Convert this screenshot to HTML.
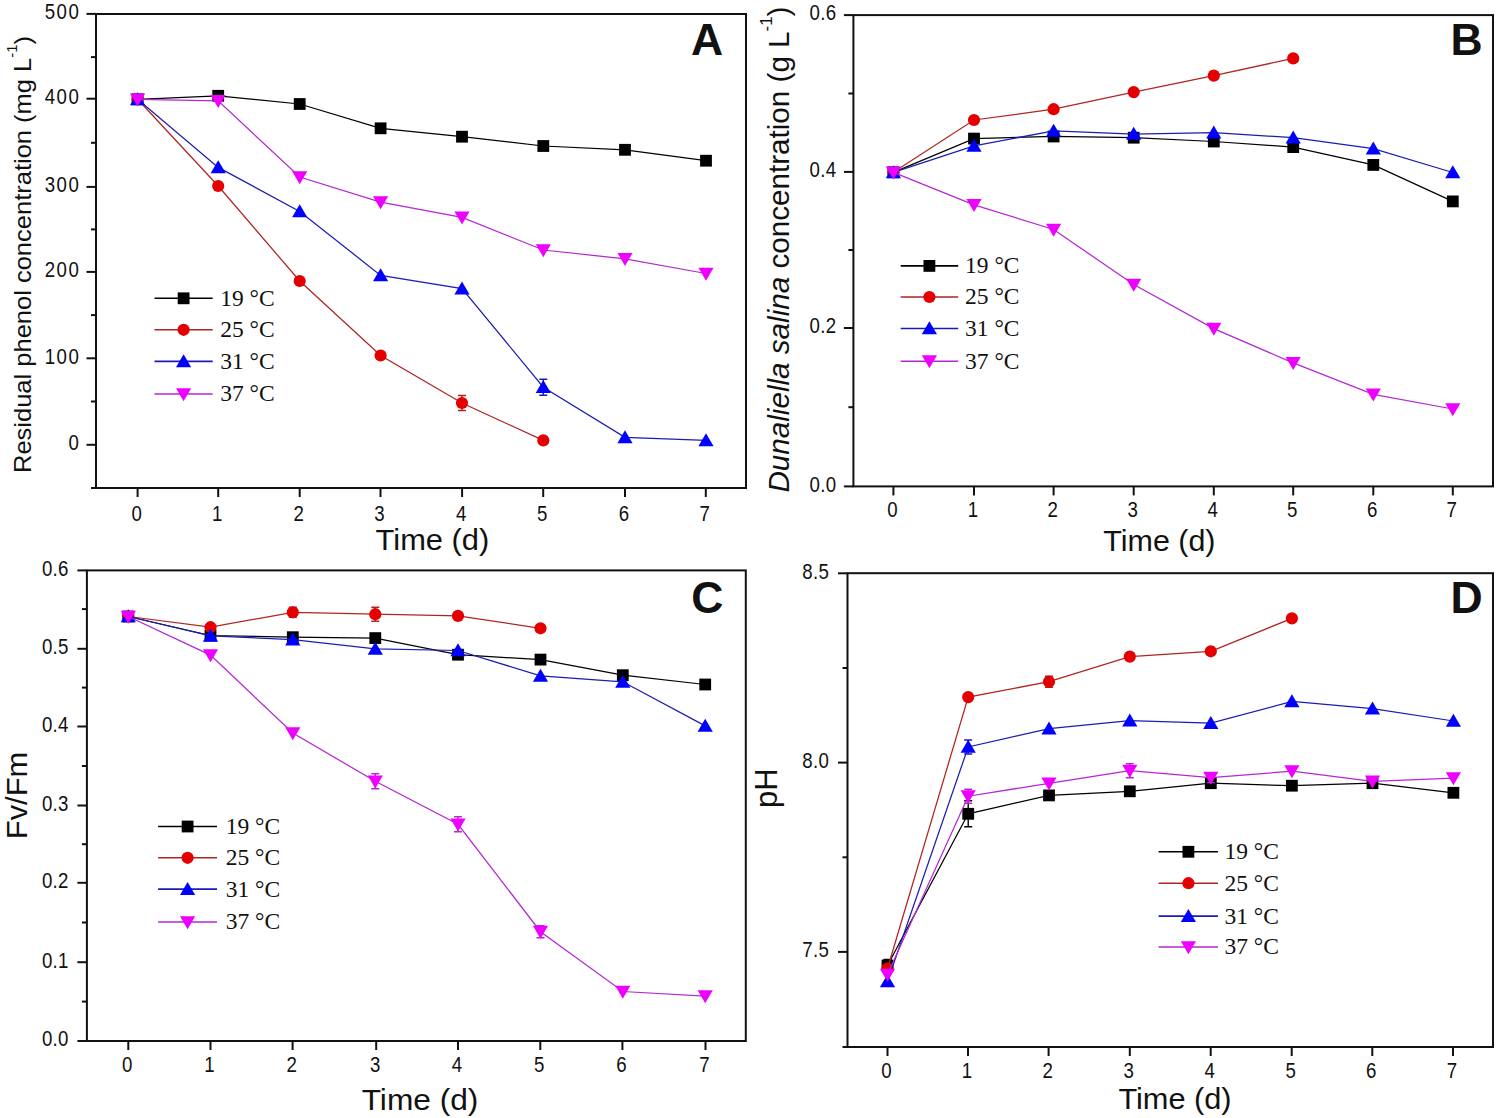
<!DOCTYPE html>
<html><head><meta charset="utf-8"><style>
html,body{margin:0;padding:0;background:#fff;width:1499px;height:1118px;overflow:hidden}
svg{display:block}
text{font-family:"Liberation Sans", sans-serif;fill:#111}
.serif{font-family:"Liberation Serif", serif}
</style></head><body>
<svg width="1499" height="1118" viewBox="0 0 1499 1118">
<rect width="1499" height="1118" fill="#fff"/>
<rect x="96" y="14" width="650" height="474" fill="none" stroke="#111" stroke-width="2.0"/>
<line x1="86.5" y1="13.9" x2="96" y2="13.9" stroke="#111" stroke-width="2"/>
<text transform="translate(80.30,19.20) scale(0.86,1)" font-size="21.7" text-anchor="end" letter-spacing="1.75">500</text>
<line x1="86.5" y1="98.7" x2="96" y2="98.7" stroke="#111" stroke-width="2"/>
<text transform="translate(80.30,104.00) scale(0.86,1)" font-size="21.7" text-anchor="end" letter-spacing="1.75">400</text>
<line x1="86.5" y1="186.9" x2="96" y2="186.9" stroke="#111" stroke-width="2"/>
<text transform="translate(80.30,192.20) scale(0.86,1)" font-size="21.7" text-anchor="end" letter-spacing="1.75">300</text>
<line x1="86.5" y1="271.9" x2="96" y2="271.9" stroke="#111" stroke-width="2"/>
<text transform="translate(80.30,277.20) scale(0.86,1)" font-size="21.7" text-anchor="end" letter-spacing="1.75">200</text>
<line x1="86.5" y1="358.3" x2="96" y2="358.3" stroke="#111" stroke-width="2"/>
<text transform="translate(80.30,363.60) scale(0.86,1)" font-size="21.7" text-anchor="end" letter-spacing="1.75">100</text>
<line x1="86.5" y1="444.8" x2="96" y2="444.8" stroke="#111" stroke-width="2"/>
<text transform="translate(80.30,450.10) scale(0.86,1)" font-size="21.7" text-anchor="end" letter-spacing="1.75">0</text>
<line x1="91" y1="57.1" x2="96" y2="57.1" stroke="#111" stroke-width="2"/>
<line x1="91" y1="142.8" x2="96" y2="142.8" stroke="#111" stroke-width="2"/>
<line x1="91" y1="229.4" x2="96" y2="229.4" stroke="#111" stroke-width="2"/>
<line x1="91" y1="315.1" x2="96" y2="315.1" stroke="#111" stroke-width="2"/>
<line x1="91" y1="401.5" x2="96" y2="401.5" stroke="#111" stroke-width="2"/>
<line x1="91" y1="488" x2="96" y2="488" stroke="#111" stroke-width="2"/>
<line x1="137.6" y1="488" x2="137.6" y2="497" stroke="#111" stroke-width="2"/>
<text transform="translate(136.60,520.70) scale(0.86,1)" font-size="21.7" text-anchor="middle">0</text>
<line x1="218.2" y1="488" x2="218.2" y2="497" stroke="#111" stroke-width="2"/>
<text transform="translate(217.20,520.70) scale(0.86,1)" font-size="21.7" text-anchor="middle">1</text>
<line x1="299.7" y1="488" x2="299.7" y2="497" stroke="#111" stroke-width="2"/>
<text transform="translate(298.70,520.70) scale(0.86,1)" font-size="21.7" text-anchor="middle">2</text>
<line x1="380.5" y1="488" x2="380.5" y2="497" stroke="#111" stroke-width="2"/>
<text transform="translate(379.50,520.70) scale(0.86,1)" font-size="21.7" text-anchor="middle">3</text>
<line x1="462.1" y1="488" x2="462.1" y2="497" stroke="#111" stroke-width="2"/>
<text transform="translate(461.10,520.70) scale(0.86,1)" font-size="21.7" text-anchor="middle">4</text>
<line x1="543.2" y1="488" x2="543.2" y2="497" stroke="#111" stroke-width="2"/>
<text transform="translate(542.20,520.70) scale(0.86,1)" font-size="21.7" text-anchor="middle">5</text>
<line x1="625" y1="488" x2="625" y2="497" stroke="#111" stroke-width="2"/>
<text transform="translate(624.00,520.70) scale(0.86,1)" font-size="21.7" text-anchor="middle">6</text>
<line x1="705.8" y1="488" x2="705.8" y2="497" stroke="#111" stroke-width="2"/>
<text transform="translate(704.80,520.70) scale(0.86,1)" font-size="21.7" text-anchor="middle">7</text>
<text x="375.6" y="549.8" font-size="29" textLength="113.7" lengthAdjust="spacingAndGlyphs">Time (d)</text>
<text x="691.0" y="55.0" font-size="44.5" font-weight="bold">A</text>
<text transform="translate(30.7,473) rotate(-90)" font-size="24" textLength="437" lengthAdjust="spacingAndGlyphs">Residual phenol concentration (mg L<tspan font-size="14" dy="-14">-1</tspan><tspan dy="14">)</tspan></text>
<polyline points="137.60,99.30 218.20,95.80 299.70,104.00 380.60,128.30 462.00,136.70 543.30,146.00 625.00,149.80 706.00,160.70" fill="none" stroke="#000000" stroke-width="1.25"/>
<rect x="131.70" y="93.40" width="11.80" height="11.80" fill="#000000"/>
<rect x="212.30" y="89.90" width="11.80" height="11.80" fill="#000000"/>
<rect x="293.80" y="98.10" width="11.80" height="11.80" fill="#000000"/>
<rect x="374.70" y="122.40" width="11.80" height="11.80" fill="#000000"/>
<rect x="456.10" y="130.80" width="11.80" height="11.80" fill="#000000"/>
<rect x="537.40" y="140.10" width="11.80" height="11.80" fill="#000000"/>
<rect x="619.10" y="143.90" width="11.80" height="11.80" fill="#000000"/>
<rect x="700.10" y="154.80" width="11.80" height="11.80" fill="#000000"/>
<polyline points="137.60,99.30 218.20,186.00 299.70,281.00 380.60,355.50 462.00,403.00 543.30,440.40" fill="none" stroke="#b02424" stroke-width="1.25"/>
<path d="M462.00 395.50V410.50M458.00 395.50h8M458.00 410.50h8" stroke="#b02424" stroke-width="1.4" fill="none"/>
<circle cx="137.60" cy="99.30" r="6.10" fill="#e40000"/>
<circle cx="218.20" cy="186.00" r="6.10" fill="#e40000"/>
<circle cx="299.70" cy="281.00" r="6.10" fill="#e40000"/>
<circle cx="380.60" cy="355.50" r="6.10" fill="#e40000"/>
<circle cx="462.00" cy="403.00" r="6.10" fill="#e40000"/>
<circle cx="543.30" cy="440.40" r="6.10" fill="#e40000"/>
<polyline points="137.60,99.30 218.20,167.40 299.70,211.40 380.60,275.40 462.00,288.60 543.30,387.20 625.00,437.30 706.00,440.40" fill="none" stroke="#1c1cb4" stroke-width="1.25"/>
<path d="M543.30 379.20V395.20M539.30 379.20h8M539.30 395.20h8" stroke="#1c1cb4" stroke-width="1.4" fill="none"/>
<polygon points="137.60,92.15 145.20,105.15 130.00,105.15" fill="#0000ff"/>
<polygon points="218.20,160.25 225.80,173.25 210.60,173.25" fill="#0000ff"/>
<polygon points="299.70,204.25 307.30,217.25 292.10,217.25" fill="#0000ff"/>
<polygon points="380.60,268.25 388.20,281.25 373.00,281.25" fill="#0000ff"/>
<polygon points="462.00,281.45 469.60,294.45 454.40,294.45" fill="#0000ff"/>
<polygon points="543.30,380.05 550.90,393.05 535.70,393.05" fill="#0000ff"/>
<polygon points="625.00,430.15 632.60,443.15 617.40,443.15" fill="#0000ff"/>
<polygon points="706.00,433.25 713.60,446.25 698.40,446.25" fill="#0000ff"/>
<polyline points="137.60,99.30 218.20,100.80 299.70,177.00 380.60,202.20 462.00,217.40 543.30,250.00 625.00,258.80 706.00,273.50" fill="none" stroke="#b428d2" stroke-width="1.25"/>
<polygon points="137.60,106.45 145.20,93.45 130.00,93.45" fill="#ee00ff"/>
<polygon points="218.20,107.95 225.80,94.95 210.60,94.95" fill="#ee00ff"/>
<polygon points="299.70,184.15 307.30,171.15 292.10,171.15" fill="#ee00ff"/>
<polygon points="380.60,209.35 388.20,196.35 373.00,196.35" fill="#ee00ff"/>
<polygon points="462.00,224.55 469.60,211.55 454.40,211.55" fill="#ee00ff"/>
<polygon points="543.30,257.15 550.90,244.15 535.70,244.15" fill="#ee00ff"/>
<polygon points="625.00,265.95 632.60,252.95 617.40,252.95" fill="#ee00ff"/>
<polygon points="706.00,280.65 713.60,267.65 698.40,267.65" fill="#ee00ff"/>
<line x1="154.5" y1="298.3" x2="212.7" y2="298.3" stroke="#000000" stroke-width="1.6"/>
<rect x="177.70" y="292.40" width="11.80" height="11.80" fill="#000000"/>
<text x="220.2" y="305.70" class="serif" font-size="23.5">19 °C</text>
<line x1="154.5" y1="329.8" x2="212.7" y2="329.8" stroke="#b02424" stroke-width="1.6"/>
<circle cx="183.60" cy="329.80" r="6.10" fill="#e40000"/>
<text x="220.2" y="337.20" class="serif" font-size="23.5">25 °C</text>
<line x1="154.5" y1="361.4" x2="212.7" y2="361.4" stroke="#1c1cb4" stroke-width="1.6"/>
<polygon points="183.60,354.25 191.20,367.25 176.00,367.25" fill="#0000ff"/>
<text x="220.2" y="368.80" class="serif" font-size="23.5">31 °C</text>
<line x1="154.5" y1="394.0" x2="212.7" y2="394.0" stroke="#b428d2" stroke-width="1.6"/>
<polygon points="183.60,401.15 191.20,388.15 176.00,388.15" fill="#ee00ff"/>
<text x="220.2" y="401.40" class="serif" font-size="23.5">37 °C</text>
<rect x="853.4" y="15.1" width="639.6" height="471.29999999999995" fill="none" stroke="#111" stroke-width="2.0"/>
<line x1="843.9" y1="15.1" x2="853.4" y2="15.1" stroke="#111" stroke-width="2"/>
<text transform="translate(836.26,20.40) scale(0.86,1)" font-size="21.7" text-anchor="end" letter-spacing="0.3">0.6</text>
<line x1="843.9" y1="171.9" x2="853.4" y2="171.9" stroke="#111" stroke-width="2"/>
<text transform="translate(836.26,177.20) scale(0.86,1)" font-size="21.7" text-anchor="end" letter-spacing="0.3">0.4</text>
<line x1="843.9" y1="328.0" x2="853.4" y2="328.0" stroke="#111" stroke-width="2"/>
<text transform="translate(836.26,333.30) scale(0.86,1)" font-size="21.7" text-anchor="end" letter-spacing="0.3">0.2</text>
<line x1="843.9" y1="486.4" x2="853.4" y2="486.4" stroke="#111" stroke-width="2"/>
<text transform="translate(836.26,491.70) scale(0.86,1)" font-size="21.7" text-anchor="end" letter-spacing="0.3">0.0</text>
<line x1="848.4" y1="93.5" x2="853.4" y2="93.5" stroke="#111" stroke-width="2"/>
<line x1="848.4" y1="250.0" x2="853.4" y2="250.0" stroke="#111" stroke-width="2"/>
<line x1="848.4" y1="407.2" x2="853.4" y2="407.2" stroke="#111" stroke-width="2"/>
<line x1="893.4" y1="486.4" x2="893.4" y2="495.4" stroke="#111" stroke-width="2"/>
<text transform="translate(892.40,517.20) scale(0.86,1)" font-size="21.7" text-anchor="middle">0</text>
<line x1="974" y1="486.4" x2="974" y2="495.4" stroke="#111" stroke-width="2"/>
<text transform="translate(973.00,517.20) scale(0.86,1)" font-size="21.7" text-anchor="middle">1</text>
<line x1="1053.6" y1="486.4" x2="1053.6" y2="495.4" stroke="#111" stroke-width="2"/>
<text transform="translate(1052.60,517.20) scale(0.86,1)" font-size="21.7" text-anchor="middle">2</text>
<line x1="1133.7" y1="486.4" x2="1133.7" y2="495.4" stroke="#111" stroke-width="2"/>
<text transform="translate(1132.70,517.20) scale(0.86,1)" font-size="21.7" text-anchor="middle">3</text>
<line x1="1213.8" y1="486.4" x2="1213.8" y2="495.4" stroke="#111" stroke-width="2"/>
<text transform="translate(1212.80,517.20) scale(0.86,1)" font-size="21.7" text-anchor="middle">4</text>
<line x1="1293.2" y1="486.4" x2="1293.2" y2="495.4" stroke="#111" stroke-width="2"/>
<text transform="translate(1292.20,517.20) scale(0.86,1)" font-size="21.7" text-anchor="middle">5</text>
<line x1="1373.3" y1="486.4" x2="1373.3" y2="495.4" stroke="#111" stroke-width="2"/>
<text transform="translate(1372.30,517.20) scale(0.86,1)" font-size="21.7" text-anchor="middle">6</text>
<line x1="1452.8" y1="486.4" x2="1452.8" y2="495.4" stroke="#111" stroke-width="2"/>
<text transform="translate(1451.80,517.20) scale(0.86,1)" font-size="21.7" text-anchor="middle">7</text>
<text x="1103.3" y="551.3" font-size="29" textLength="112.2" lengthAdjust="spacingAndGlyphs">Time (d)</text>
<text x="1450.5" y="55.2" font-size="44.5" font-weight="bold">B</text>
<text transform="translate(788.8,492.6) rotate(-90)" font-size="30" textLength="486" lengthAdjust="spacingAndGlyphs"><tspan font-style="italic">Dunaliella salina</tspan> concentration (g L<tspan font-size="17" dy="-17">-1</tspan><tspan dy="17">)</tspan></text>
<polyline points="893.40,172.30 974.00,138.60 1053.60,136.50 1133.70,137.70 1213.80,141.50 1293.20,147.10 1373.30,164.90 1452.80,201.40" fill="none" stroke="#000000" stroke-width="1.25"/>
<rect x="887.50" y="166.40" width="11.80" height="11.80" fill="#000000"/>
<rect x="968.10" y="132.70" width="11.80" height="11.80" fill="#000000"/>
<rect x="1047.70" y="130.60" width="11.80" height="11.80" fill="#000000"/>
<rect x="1127.80" y="131.80" width="11.80" height="11.80" fill="#000000"/>
<rect x="1207.90" y="135.60" width="11.80" height="11.80" fill="#000000"/>
<rect x="1287.30" y="141.20" width="11.80" height="11.80" fill="#000000"/>
<rect x="1367.40" y="159.00" width="11.80" height="11.80" fill="#000000"/>
<rect x="1446.90" y="195.50" width="11.80" height="11.80" fill="#000000"/>
<polyline points="893.40,172.30 974.00,120.00 1053.60,109.20 1133.70,92.10 1213.80,75.60 1293.20,58.40" fill="none" stroke="#b02424" stroke-width="1.25"/>
<circle cx="893.40" cy="172.30" r="6.10" fill="#e40000"/>
<circle cx="974.00" cy="120.00" r="6.10" fill="#e40000"/>
<circle cx="1053.60" cy="109.20" r="6.10" fill="#e40000"/>
<circle cx="1133.70" cy="92.10" r="6.10" fill="#e40000"/>
<circle cx="1213.80" cy="75.60" r="6.10" fill="#e40000"/>
<circle cx="1293.20" cy="58.40" r="6.10" fill="#e40000"/>
<polyline points="893.40,172.30 974.00,145.80 1053.60,131.00 1133.70,134.00 1213.80,132.70 1293.20,137.70 1373.30,148.60 1452.80,172.50" fill="none" stroke="#1c1cb4" stroke-width="1.25"/>
<polygon points="893.40,165.15 901.00,178.15 885.80,178.15" fill="#0000ff"/>
<polygon points="974.00,138.65 981.60,151.65 966.40,151.65" fill="#0000ff"/>
<polygon points="1053.60,123.85 1061.20,136.85 1046.00,136.85" fill="#0000ff"/>
<polygon points="1133.70,126.85 1141.30,139.85 1126.10,139.85" fill="#0000ff"/>
<polygon points="1213.80,125.55 1221.40,138.55 1206.20,138.55" fill="#0000ff"/>
<polygon points="1293.20,130.55 1300.80,143.55 1285.60,143.55" fill="#0000ff"/>
<polygon points="1373.30,141.45 1380.90,154.45 1365.70,154.45" fill="#0000ff"/>
<polygon points="1452.80,165.35 1460.40,178.35 1445.20,178.35" fill="#0000ff"/>
<polyline points="893.40,172.30 974.00,204.80 1053.60,229.50 1133.70,284.50 1213.80,328.60 1293.20,362.90 1373.30,394.30 1452.80,409.00" fill="none" stroke="#b428d2" stroke-width="1.25"/>
<polygon points="893.40,179.45 901.00,166.45 885.80,166.45" fill="#ee00ff"/>
<polygon points="974.00,211.95 981.60,198.95 966.40,198.95" fill="#ee00ff"/>
<polygon points="1053.60,236.65 1061.20,223.65 1046.00,223.65" fill="#ee00ff"/>
<polygon points="1133.70,291.65 1141.30,278.65 1126.10,278.65" fill="#ee00ff"/>
<polygon points="1213.80,335.75 1221.40,322.75 1206.20,322.75" fill="#ee00ff"/>
<polygon points="1293.20,370.05 1300.80,357.05 1285.60,357.05" fill="#ee00ff"/>
<polygon points="1373.30,401.45 1380.90,388.45 1365.70,388.45" fill="#ee00ff"/>
<polygon points="1452.80,416.15 1460.40,403.15 1445.20,403.15" fill="#ee00ff"/>
<line x1="900.7" y1="265.9" x2="958.2" y2="265.9" stroke="#000000" stroke-width="1.6"/>
<rect x="923.50" y="260.00" width="11.80" height="11.80" fill="#000000"/>
<text x="965.1" y="273.30" class="serif" font-size="23.5">19 °C</text>
<line x1="900.7" y1="297.0" x2="958.2" y2="297.0" stroke="#b02424" stroke-width="1.6"/>
<circle cx="929.40" cy="297.00" r="6.10" fill="#e40000"/>
<text x="965.1" y="304.40" class="serif" font-size="23.5">25 °C</text>
<line x1="900.7" y1="328.5" x2="958.2" y2="328.5" stroke="#1c1cb4" stroke-width="1.6"/>
<polygon points="929.40,321.35 937.00,334.35 921.80,334.35" fill="#0000ff"/>
<text x="965.1" y="335.90" class="serif" font-size="23.5">31 °C</text>
<line x1="900.7" y1="361.2" x2="958.2" y2="361.2" stroke="#b428d2" stroke-width="1.6"/>
<polygon points="929.40,368.35 937.00,355.35 921.80,355.35" fill="#ee00ff"/>
<text x="965.1" y="368.60" class="serif" font-size="23.5">37 °C</text>
<rect x="86.9" y="570.4" width="658.9" height="470.6" fill="none" stroke="#111" stroke-width="2.0"/>
<line x1="77.4" y1="570.4" x2="86.9" y2="570.4" stroke="#111" stroke-width="2"/>
<text transform="translate(68.66,575.70) scale(0.86,1)" font-size="21.7" text-anchor="end" letter-spacing="0.3">0.6</text>
<line x1="77.4" y1="648.8" x2="86.9" y2="648.8" stroke="#111" stroke-width="2"/>
<text transform="translate(68.66,654.10) scale(0.86,1)" font-size="21.7" text-anchor="end" letter-spacing="0.3">0.5</text>
<line x1="77.4" y1="726.5" x2="86.9" y2="726.5" stroke="#111" stroke-width="2"/>
<text transform="translate(68.66,731.80) scale(0.86,1)" font-size="21.7" text-anchor="end" letter-spacing="0.3">0.4</text>
<line x1="77.4" y1="805.5" x2="86.9" y2="805.5" stroke="#111" stroke-width="2"/>
<text transform="translate(68.66,810.80) scale(0.86,1)" font-size="21.7" text-anchor="end" letter-spacing="0.3">0.3</text>
<line x1="77.4" y1="882.8" x2="86.9" y2="882.8" stroke="#111" stroke-width="2"/>
<text transform="translate(68.66,888.10) scale(0.86,1)" font-size="21.7" text-anchor="end" letter-spacing="0.3">0.2</text>
<line x1="77.4" y1="962.2" x2="86.9" y2="962.2" stroke="#111" stroke-width="2"/>
<text transform="translate(68.66,967.50) scale(0.86,1)" font-size="21.7" text-anchor="end" letter-spacing="0.3">0.1</text>
<line x1="77.4" y1="1041" x2="86.9" y2="1041" stroke="#111" stroke-width="2"/>
<text transform="translate(68.66,1046.30) scale(0.86,1)" font-size="21.7" text-anchor="end" letter-spacing="0.3">0.0</text>
<line x1="81.9" y1="609.1" x2="86.9" y2="609.1" stroke="#111" stroke-width="2"/>
<line x1="81.9" y1="687.6" x2="86.9" y2="687.6" stroke="#111" stroke-width="2"/>
<line x1="81.9" y1="766.0" x2="86.9" y2="766.0" stroke="#111" stroke-width="2"/>
<line x1="81.9" y1="844.2" x2="86.9" y2="844.2" stroke="#111" stroke-width="2"/>
<line x1="81.9" y1="922.5" x2="86.9" y2="922.5" stroke="#111" stroke-width="2"/>
<line x1="81.9" y1="1001.6" x2="86.9" y2="1001.6" stroke="#111" stroke-width="2"/>
<line x1="128.3" y1="1041" x2="128.3" y2="1050" stroke="#111" stroke-width="2"/>
<text transform="translate(127.30,1072.40) scale(0.86,1)" font-size="21.7" text-anchor="middle">0</text>
<line x1="210.5" y1="1041" x2="210.5" y2="1050" stroke="#111" stroke-width="2"/>
<text transform="translate(209.50,1072.40) scale(0.86,1)" font-size="21.7" text-anchor="middle">1</text>
<line x1="292.6" y1="1041" x2="292.6" y2="1050" stroke="#111" stroke-width="2"/>
<text transform="translate(291.60,1072.40) scale(0.86,1)" font-size="21.7" text-anchor="middle">2</text>
<line x1="376.2" y1="1041" x2="376.2" y2="1050" stroke="#111" stroke-width="2"/>
<text transform="translate(375.20,1072.40) scale(0.86,1)" font-size="21.7" text-anchor="middle">3</text>
<line x1="458" y1="1041" x2="458" y2="1050" stroke="#111" stroke-width="2"/>
<text transform="translate(457.00,1072.40) scale(0.86,1)" font-size="21.7" text-anchor="middle">4</text>
<line x1="540.3" y1="1041" x2="540.3" y2="1050" stroke="#111" stroke-width="2"/>
<text transform="translate(539.30,1072.40) scale(0.86,1)" font-size="21.7" text-anchor="middle">5</text>
<line x1="622.4" y1="1041" x2="622.4" y2="1050" stroke="#111" stroke-width="2"/>
<text transform="translate(621.40,1072.40) scale(0.86,1)" font-size="21.7" text-anchor="middle">6</text>
<line x1="705.5" y1="1041" x2="705.5" y2="1050" stroke="#111" stroke-width="2"/>
<text transform="translate(704.50,1072.40) scale(0.86,1)" font-size="21.7" text-anchor="middle">7</text>
<text x="361.7" y="1110.4" font-size="29" textLength="116.7" lengthAdjust="spacingAndGlyphs">Time (d)</text>
<text x="691.3" y="612.6" font-size="44.5" font-weight="bold">C</text>
<text transform="translate(26.8,839.2) rotate(-90)" font-size="30" textLength="87.5" lengthAdjust="spacingAndGlyphs">Fv/Fm</text>
<polyline points="128.30,616.50 210.50,635.50 292.80,637.20 375.30,638.10 458.00,654.70 540.50,659.60 622.80,675.20 705.20,684.50" fill="none" stroke="#000000" stroke-width="1.25"/>
<rect x="122.40" y="610.60" width="11.80" height="11.80" fill="#000000"/>
<rect x="204.60" y="629.60" width="11.80" height="11.80" fill="#000000"/>
<rect x="286.90" y="631.30" width="11.80" height="11.80" fill="#000000"/>
<rect x="369.40" y="632.20" width="11.80" height="11.80" fill="#000000"/>
<rect x="452.10" y="648.80" width="11.80" height="11.80" fill="#000000"/>
<rect x="534.60" y="653.70" width="11.80" height="11.80" fill="#000000"/>
<rect x="616.90" y="669.30" width="11.80" height="11.80" fill="#000000"/>
<rect x="699.30" y="678.60" width="11.80" height="11.80" fill="#000000"/>
<polyline points="128.30,616.50 210.50,627.20 292.80,612.30 375.30,614.20 458.00,615.90 540.50,628.30" fill="none" stroke="#b02424" stroke-width="1.25"/>
<path d="M375.30 607.20V621.20M371.30 607.20h8M371.30 621.20h8" stroke="#b02424" stroke-width="1.4" fill="none"/>
<path d="M292.80 607.30V617.30M288.80 607.30h8M288.80 617.30h8" stroke="#b02424" stroke-width="1.4" fill="none"/>
<circle cx="128.30" cy="616.50" r="6.10" fill="#e40000"/>
<circle cx="210.50" cy="627.20" r="6.10" fill="#e40000"/>
<circle cx="292.80" cy="612.30" r="6.10" fill="#e40000"/>
<circle cx="375.30" cy="614.20" r="6.10" fill="#e40000"/>
<circle cx="458.00" cy="615.90" r="6.10" fill="#e40000"/>
<circle cx="540.50" cy="628.30" r="6.10" fill="#e40000"/>
<polyline points="128.30,616.50 210.50,635.90 292.80,639.60 375.30,648.80 458.00,650.50 540.50,675.90 622.80,681.80 705.20,725.90" fill="none" stroke="#1c1cb4" stroke-width="1.25"/>
<polygon points="128.30,609.35 135.90,622.35 120.70,622.35" fill="#0000ff"/>
<polygon points="210.50,628.75 218.10,641.75 202.90,641.75" fill="#0000ff"/>
<polygon points="292.80,632.45 300.40,645.45 285.20,645.45" fill="#0000ff"/>
<polygon points="375.30,641.65 382.90,654.65 367.70,654.65" fill="#0000ff"/>
<polygon points="458.00,643.35 465.60,656.35 450.40,656.35" fill="#0000ff"/>
<polygon points="540.50,668.75 548.10,681.75 532.90,681.75" fill="#0000ff"/>
<polygon points="622.80,674.65 630.40,687.65 615.20,687.65" fill="#0000ff"/>
<polygon points="705.20,718.75 712.80,731.75 697.60,731.75" fill="#0000ff"/>
<polyline points="128.30,616.50 210.50,655.10 292.80,733.00 375.30,781.30 458.00,824.30 540.50,931.70 622.80,991.50 705.20,996.10" fill="none" stroke="#b428d2" stroke-width="1.25"/>
<path d="M375.30 773.80V788.80M371.30 773.80h8M371.30 788.80h8" stroke="#b428d2" stroke-width="1.4" fill="none"/>
<path d="M458.00 816.80V831.80M454.00 816.80h8M454.00 831.80h8" stroke="#b428d2" stroke-width="1.4" fill="none"/>
<path d="M540.50 925.70V937.70M536.50 925.70h8M536.50 937.70h8" stroke="#b428d2" stroke-width="1.4" fill="none"/>
<polygon points="128.30,623.65 135.90,610.65 120.70,610.65" fill="#ee00ff"/>
<polygon points="210.50,662.25 218.10,649.25 202.90,649.25" fill="#ee00ff"/>
<polygon points="292.80,740.15 300.40,727.15 285.20,727.15" fill="#ee00ff"/>
<polygon points="375.30,788.45 382.90,775.45 367.70,775.45" fill="#ee00ff"/>
<polygon points="458.00,831.45 465.60,818.45 450.40,818.45" fill="#ee00ff"/>
<polygon points="540.50,938.85 548.10,925.85 532.90,925.85" fill="#ee00ff"/>
<polygon points="622.80,998.65 630.40,985.65 615.20,985.65" fill="#ee00ff"/>
<polygon points="705.20,1003.25 712.80,990.25 697.60,990.25" fill="#ee00ff"/>
<line x1="158.1" y1="826.5" x2="217" y2="826.5" stroke="#000000" stroke-width="1.6"/>
<rect x="181.70" y="820.60" width="11.80" height="11.80" fill="#000000"/>
<text x="225.7" y="833.90" class="serif" font-size="23.5">19 °C</text>
<line x1="158.1" y1="857.8" x2="217" y2="857.8" stroke="#b02424" stroke-width="1.6"/>
<circle cx="187.60" cy="857.80" r="6.10" fill="#e40000"/>
<text x="225.7" y="865.20" class="serif" font-size="23.5">25 °C</text>
<line x1="158.1" y1="889.1" x2="217" y2="889.1" stroke="#1c1cb4" stroke-width="1.6"/>
<polygon points="187.60,881.95 195.20,894.95 180.00,894.95" fill="#0000ff"/>
<text x="225.7" y="896.50" class="serif" font-size="23.5">31 °C</text>
<line x1="158.1" y1="922.0" x2="217" y2="922.0" stroke="#b428d2" stroke-width="1.6"/>
<polygon points="187.60,929.15 195.20,916.15 180.00,916.15" fill="#ee00ff"/>
<text x="225.7" y="929.40" class="serif" font-size="23.5">37 °C</text>
<rect x="847.5" y="573.2" width="645.5" height="473.79999999999995" fill="none" stroke="#111" stroke-width="2.0"/>
<line x1="838.0" y1="573.3" x2="847.5" y2="573.3" stroke="#111" stroke-width="2"/>
<text transform="translate(829.06,578.60) scale(0.86,1)" font-size="21.7" text-anchor="end" letter-spacing="0.3">8.5</text>
<line x1="838.0" y1="762.6" x2="847.5" y2="762.6" stroke="#111" stroke-width="2"/>
<text transform="translate(829.06,767.90) scale(0.86,1)" font-size="21.7" text-anchor="end" letter-spacing="0.3">8.0</text>
<line x1="838.0" y1="951.9" x2="847.5" y2="951.9" stroke="#111" stroke-width="2"/>
<text transform="translate(829.06,957.20) scale(0.86,1)" font-size="21.7" text-anchor="end" letter-spacing="0.3">7.5</text>
<line x1="842.5" y1="668.0" x2="847.5" y2="668.0" stroke="#111" stroke-width="2"/>
<line x1="842.5" y1="857.3" x2="847.5" y2="857.3" stroke="#111" stroke-width="2"/>
<line x1="842.5" y1="1047" x2="847.5" y2="1047" stroke="#111" stroke-width="2"/>
<line x1="887.5" y1="1047" x2="887.5" y2="1056" stroke="#111" stroke-width="2"/>
<text transform="translate(886.50,1078.00) scale(0.86,1)" font-size="21.7" text-anchor="middle">0</text>
<line x1="968" y1="1047" x2="968" y2="1056" stroke="#111" stroke-width="2"/>
<text transform="translate(967.00,1078.00) scale(0.86,1)" font-size="21.7" text-anchor="middle">1</text>
<line x1="1048.6" y1="1047" x2="1048.6" y2="1056" stroke="#111" stroke-width="2"/>
<text transform="translate(1047.60,1078.00) scale(0.86,1)" font-size="21.7" text-anchor="middle">2</text>
<line x1="1129.8" y1="1047" x2="1129.8" y2="1056" stroke="#111" stroke-width="2"/>
<text transform="translate(1128.80,1078.00) scale(0.86,1)" font-size="21.7" text-anchor="middle">3</text>
<line x1="1210.7" y1="1047" x2="1210.7" y2="1056" stroke="#111" stroke-width="2"/>
<text transform="translate(1209.70,1078.00) scale(0.86,1)" font-size="21.7" text-anchor="middle">4</text>
<line x1="1291.7" y1="1047" x2="1291.7" y2="1056" stroke="#111" stroke-width="2"/>
<text transform="translate(1290.70,1078.00) scale(0.86,1)" font-size="21.7" text-anchor="middle">5</text>
<line x1="1372.3" y1="1047" x2="1372.3" y2="1056" stroke="#111" stroke-width="2"/>
<text transform="translate(1371.30,1078.00) scale(0.86,1)" font-size="21.7" text-anchor="middle">6</text>
<line x1="1453" y1="1047" x2="1453" y2="1056" stroke="#111" stroke-width="2"/>
<text transform="translate(1452.00,1078.00) scale(0.86,1)" font-size="21.7" text-anchor="middle">7</text>
<text x="1118.4" y="1108.9" font-size="29" textLength="113.2" lengthAdjust="spacingAndGlyphs">Time (d)</text>
<text x="1450.5" y="612.8" font-size="44.5" font-weight="bold">D</text>
<text transform="translate(776.9,808) rotate(-90)" font-size="31">pH</text>
<polyline points="887.50,965.50 968.20,813.80 1049.00,795.40 1129.80,791.30 1210.80,783.20 1291.90,785.70 1372.50,783.20 1453.40,792.80" fill="none" stroke="#000000" stroke-width="1.25"/>
<path d="M887.50 959.50V971.50M883.50 959.50h8M883.50 971.50h8" stroke="#000000" stroke-width="1.4" fill="none"/>
<path d="M968.20 800.80V826.80M964.20 800.80h8M964.20 826.80h8" stroke="#000000" stroke-width="1.4" fill="none"/>
<rect x="881.60" y="959.60" width="11.80" height="11.80" fill="#000000"/>
<rect x="962.30" y="807.90" width="11.80" height="11.80" fill="#000000"/>
<rect x="1043.10" y="789.50" width="11.80" height="11.80" fill="#000000"/>
<rect x="1123.90" y="785.40" width="11.80" height="11.80" fill="#000000"/>
<rect x="1204.90" y="777.30" width="11.80" height="11.80" fill="#000000"/>
<rect x="1286.00" y="779.80" width="11.80" height="11.80" fill="#000000"/>
<rect x="1366.60" y="777.30" width="11.80" height="11.80" fill="#000000"/>
<rect x="1447.50" y="786.90" width="11.80" height="11.80" fill="#000000"/>
<polyline points="887.50,968.50 968.20,697.10 1049.00,681.70 1129.80,656.60 1210.80,651.30 1291.90,618.40" fill="none" stroke="#b02424" stroke-width="1.25"/>
<path d="M1049.00 676.20V687.20M1045.00 676.20h8M1045.00 687.20h8" stroke="#b02424" stroke-width="1.4" fill="none"/>
<circle cx="887.50" cy="968.50" r="6.10" fill="#e40000"/>
<circle cx="968.20" cy="697.10" r="6.10" fill="#e40000"/>
<circle cx="1049.00" cy="681.70" r="6.10" fill="#e40000"/>
<circle cx="1129.80" cy="656.60" r="6.10" fill="#e40000"/>
<circle cx="1210.80" cy="651.30" r="6.10" fill="#e40000"/>
<circle cx="1291.90" cy="618.40" r="6.10" fill="#e40000"/>
<polyline points="887.50,981.50 968.20,747.00 1049.00,728.70 1129.80,720.70 1210.80,723.10 1291.90,701.50 1372.50,708.60 1453.40,721.00" fill="none" stroke="#1c1cb4" stroke-width="1.25"/>
<path d="M968.20 740.00V754.00M964.20 740.00h8M964.20 754.00h8" stroke="#1c1cb4" stroke-width="1.4" fill="none"/>
<polygon points="887.50,974.35 895.10,987.35 879.90,987.35" fill="#0000ff"/>
<polygon points="968.20,739.85 975.80,752.85 960.60,752.85" fill="#0000ff"/>
<polygon points="1049.00,721.55 1056.60,734.55 1041.40,734.55" fill="#0000ff"/>
<polygon points="1129.80,713.55 1137.40,726.55 1122.20,726.55" fill="#0000ff"/>
<polygon points="1210.80,715.95 1218.40,728.95 1203.20,728.95" fill="#0000ff"/>
<polygon points="1291.90,694.35 1299.50,707.35 1284.30,707.35" fill="#0000ff"/>
<polygon points="1372.50,701.45 1380.10,714.45 1364.90,714.45" fill="#0000ff"/>
<polygon points="1453.40,713.85 1461.00,726.85 1445.80,726.85" fill="#0000ff"/>
<polyline points="887.50,974.50 968.20,796.20 1049.00,783.30 1129.80,770.70 1210.80,777.60 1291.90,771.20 1372.50,781.40 1453.40,778.10" fill="none" stroke="#b428d2" stroke-width="1.25"/>
<path d="M968.20 789.20V803.20M964.20 789.20h8M964.20 803.20h8" stroke="#b428d2" stroke-width="1.4" fill="none"/>
<path d="M1129.80 763.70V777.70M1125.80 763.70h8M1125.80 777.70h8" stroke="#b428d2" stroke-width="1.4" fill="none"/>
<path d="M1210.80 772.60V782.60M1206.80 772.60h8M1206.80 782.60h8" stroke="#b428d2" stroke-width="1.4" fill="none"/>
<polygon points="887.50,981.65 895.10,968.65 879.90,968.65" fill="#ee00ff"/>
<polygon points="968.20,803.35 975.80,790.35 960.60,790.35" fill="#ee00ff"/>
<polygon points="1049.00,790.45 1056.60,777.45 1041.40,777.45" fill="#ee00ff"/>
<polygon points="1129.80,777.85 1137.40,764.85 1122.20,764.85" fill="#ee00ff"/>
<polygon points="1210.80,784.75 1218.40,771.75 1203.20,771.75" fill="#ee00ff"/>
<polygon points="1291.90,778.35 1299.50,765.35 1284.30,765.35" fill="#ee00ff"/>
<polygon points="1372.50,788.55 1380.10,775.55 1364.90,775.55" fill="#ee00ff"/>
<polygon points="1453.40,785.25 1461.00,772.25 1445.80,772.25" fill="#ee00ff"/>
<line x1="1158.6" y1="851.8" x2="1218" y2="851.8" stroke="#000000" stroke-width="1.6"/>
<rect x="1182.50" y="845.90" width="11.80" height="11.80" fill="#000000"/>
<text x="1224.4" y="859.20" class="serif" font-size="23.5">19 °C</text>
<line x1="1158.6" y1="883.2" x2="1218" y2="883.2" stroke="#b02424" stroke-width="1.6"/>
<circle cx="1188.40" cy="883.20" r="6.10" fill="#e40000"/>
<text x="1224.4" y="890.60" class="serif" font-size="23.5">25 °C</text>
<line x1="1158.6" y1="916.1" x2="1218" y2="916.1" stroke="#1c1cb4" stroke-width="1.6"/>
<polygon points="1188.40,908.95 1196.00,921.95 1180.80,921.95" fill="#0000ff"/>
<text x="1224.4" y="923.50" class="serif" font-size="23.5">31 °C</text>
<line x1="1158.6" y1="947.0" x2="1218" y2="947.0" stroke="#b428d2" stroke-width="1.6"/>
<polygon points="1188.40,954.15 1196.00,941.15 1180.80,941.15" fill="#ee00ff"/>
<text x="1224.4" y="954.40" class="serif" font-size="23.5">37 °C</text>
</svg>
</body></html>
